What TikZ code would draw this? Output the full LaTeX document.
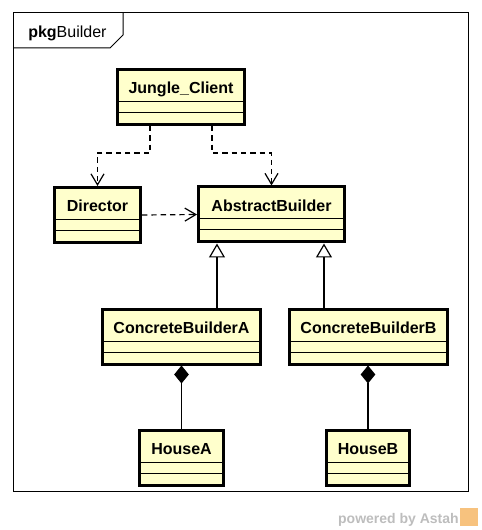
\documentclass[tikz,border=0pt]{standalone}
\usepackage{fontspec}
\setmainfont{Liberation Sans}
\usetikzlibrary{arrows.meta}

\definecolor{classfill}{HTML}{FFFFCC}
\definecolor{astahgray}{HTML}{BDBDBD}
\definecolor{astahorange}{HTML}{F7C27E}

\begin{document}
\begin{tikzpicture}[x=.75pt,y=-.75pt,
		cls/.style={draw,line width=2.25pt,fill=classfill,minimum height=41.25pt,inner sep=0pt,
			label={[font=\fontsize{12}{14}\selectfont\bfseries,anchor=base,yshift=-19.5pt]north:#1},
			path picture={
				\draw[line width=.75pt] ([yshift=-24pt]path picture bounding box.north west) -- ([yshift=-24pt]path picture bounding box.north east);
				\draw[line width=.75pt] ([yshift=-32.25pt]path picture bounding box.north west) -- ([yshift=-32.25pt]path picture bounding box.north east);
			}},
		dep/.style={line width=.9pt,dash pattern=on 4pt off 3pt,-{Straight Barb[length=8.25pt,width=9.75pt]}},
		gen/.style={line width=.9pt,-{Triangle[fill=white,length=10.5pt,width=12pt,line width=.9pt]}},
		comp/.style={line width=.9pt,-{Diamond[length=13.5pt,width=11pt]}}]
			\useasboundingbox (0,0) rectangle (481,530);
			\draw[line width=.75pt] (13,13) rectangle (468,491);
			\draw[line width=.75pt] (13,48) -- (110,48) -- (123,35) -- (123,13);
			\node[anchor=base west,inner sep=0pt,font=\fontsize{12}{14}\selectfont] (pkg) at (28,38) {\textbf{pkg}Builder};
			
			\node[cls=Jungle\_Client,minimum width=95.25pt] (jc) at (181,97) {};
			\node[cls=Director,minimum width=64.5pt] (dir) at (97.5,215) {};
			\node[cls=AbstractBuilder,minimum width=109.5pt] (ab) at (271.5,214.5) {};
			\node[cls=ConcreteBuilderA,minimum width=118.5pt] (cba) at (181.5,336.5) {};
			\node[cls=ConcreteBuilderB,minimum width=118.5pt] (cbb) at (368.5,336.5) {};
			\node[cls=HouseA,minimum width=63pt] (ha) at (181.5,457.5) {};
			\node[cls=HouseB,minimum width=62.25pt] (hb) at (368,457.5) {};
			
			\draw[dep] ([xshift=-23.25pt]jc.south) -- ++(0,27) -| (dir.north);
			\draw[dep] ([xshift=23.25pt]jc.south) -- ++(0,27) -| (ab.north);
			\draw[dep] (dir.east) -- (ab.west);
			
			\coordinate (ga) at ([xshift=26.6pt]cba.north);
			\coordinate (gb) at ([xshift=-33.4pt]cbb.north);
			\draw[gen] (ga) -- (ga |- ab.south);
			\draw[gen] (gb) -- (gb |- ab.south);
			\draw[comp] (ha.north) -- (cba.south);
			\draw[comp] (hb.north) -- (hb.north |- cbb.south);
			
			\node[anchor=base east,inner sep=0pt,text=astahgray,font=\fontsize{10.5}{12}\selectfont\bfseries] (astah) at (459,523) {powered by Astah};
			\fill[astahorange] (460,508) rectangle (478,526);
		\end{tikzpicture}
\end{document}
